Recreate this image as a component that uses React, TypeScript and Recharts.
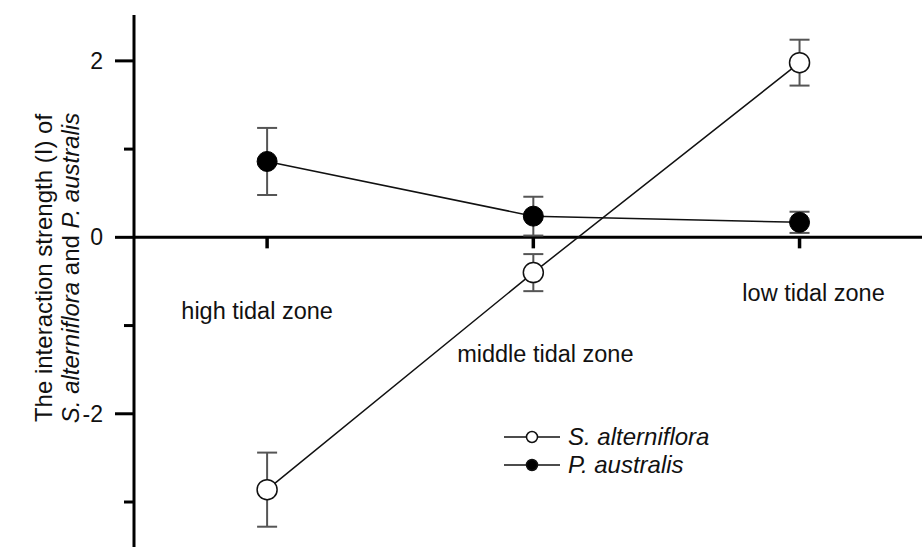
import {
  ComposedChart,
  Line,
  XAxis,
  YAxis,
  ErrorBar,
  ReferenceLine,
  ReferenceDot,
} from 'recharts';

const zones = ['high tidal zone', 'middle tidal zone', 'low tidal zone'];
const alternifloraMean = [-2.86, -0.4, 1.98];
const alternifloraSe = [0.42, 0.21, 0.26];
const australisMean = [0.86, 0.24, 0.17];
const australisSe = [0.38, 0.22, 0.12];
const yTicks = [-3, -2, -1, 0, 1, 2];

const FONT = '"Liberation Sans", Arial, sans-serif';
const AXIS_X = 134;

// one row per zone, x is the zone index
const data = zones.map((zone, i) => ({
  x: i,
  zone,
  sa: alternifloraMean[i],
  saErr: alternifloraSe[i],
  pa: australisMean[i],
  paErr: australisSe[i],
}));

// where each zone name is written (px shift, y in data units)
const zoneLabelPos = [
  { dx: -10, y: -0.84 },
  { dx: 12, y: -1.32 },
  { dx: 14, y: -0.63 },
];

const OpenDot = (p: any) => (
  <circle key={p.index} cx={p.cx} cy={p.cy} r={10} fill="#fff" stroke="#111" strokeWidth={1.5} />
);
const FilledDot = (p: any) => (
  <circle key={p.index} cx={p.cx} cy={p.cy} r={10} fill="#000" stroke="#000" strokeWidth={1} />
);

const YTick = ({ y, payload }: any) => {
  const major = payload.value % 2 === 0;
  return (
    <g>
      <line x1={AXIS_X - (major ? 19 : 10)} x2={AXIS_X} y1={y} y2={y} stroke="#000" strokeWidth={3} />
      {major && (
        <text x={AXIS_X - 31} y={y} dy={8} textAnchor="end" fontSize={23} fill="#111" fontFamily={FONT}>
          {payload.value}
        </text>
      )}
    </g>
  );
};

const YTitle = () => (
  <g fontFamily={FONT} fontSize={24} fill="#111">
    <text transform="translate(52,268) rotate(-90)" textAnchor="middle">
      The interaction strength (I) of
    </text>
    <text transform="translate(79,268) rotate(-90)" textAnchor="middle">
      <tspan fontStyle="italic">S. alterniflora</tspan> and <tspan fontStyle="italic">P. australis</tspan>
    </text>
  </g>
);

const legendItems = [
  { name: 'S. alterniflora', fill: '#fff' },
  { name: 'P. australis', fill: '#000' },
];

export default function App() {
  return (
    <div style={{ position: 'absolute', left: 0, top: 0, width: 922, height: 547, background: '#fff' }}>
      <ComposedChart width={922} height={547} data={data} margin={{ top: 15, right: 0, bottom: 0, left: 0 }}>
        <XAxis type="number" dataKey="x" domain={[-0.5, 2.46]} hide allowDataOverflow />
        <YAxis
          type="number"
          domain={[-3.51, 2.52]}
          ticks={yTicks}
          interval={0}
          width={AXIS_X}
          allowDataOverflow
          tickLine={false}
          axisLine={{ stroke: '#000', strokeWidth: 3 }}
          tick={<YTick />}
          label={{ content: () => <YTitle /> }}
        />
        <ReferenceLine y={0} stroke="#000" strokeWidth={3} />
        {zones.map((z, i) => (
          <ReferenceLine
            key={'t' + z}
            segment={[{ x: i, y: 0 }, { x: i, y: -0.125 }]}
            stroke="#000"
            strokeWidth={3.5}
          />
        ))}
        {zones.map((z, i) => (
          <ReferenceDot
            key={'l' + z}
            x={i}
            y={zoneLabelPos[i].y}
            r={0}
            shape={(p: any) => (
              <text
                x={p.cx + zoneLabelPos[i].dx}
                y={p.cy}
                dy={8}
                textAnchor="middle"
                fontSize={23.5}
                fill="#111"
                fontFamily={FONT}
              >
                {z}
              </text>
            )}
          />
        ))}
        <Line
          type="linear"
          dataKey="sa"
          name="S. alterniflora"
          stroke="#111"
          strokeWidth={1.5}
          dot={<OpenDot />}
          activeDot={false}
          isAnimationActive={false}
        >
          <ErrorBar dataKey="saErr" direction="y" width={10} stroke="#555" strokeWidth={2} />
        </Line>
        <Line
          type="linear"
          dataKey="pa"
          name="P. australis"
          stroke="#111"
          strokeWidth={1.5}
          dot={<FilledDot />}
          activeDot={false}
          isAnimationActive={false}
        >
          <ErrorBar dataKey="paErr" direction="y" width={10} stroke="#555" strokeWidth={2} />
        </Line>
      </ComposedChart>
      <div
        style={{
          position: 'absolute',
          left: 504,
          top: 423,
          fontFamily: FONT,
          fontSize: 24,
          fontStyle: 'italic',
          color: '#111',
        }}
      >
        {legendItems.map((it) => (
          <div key={it.name} style={{ display: 'flex', alignItems: 'center', height: 28 }}>
            <svg width={60} height={20} style={{ marginRight: 4 }}>
              <line x1={0} x2={56} y1={10} y2={10} stroke="#111" strokeWidth={1.5} />
              <circle cx={28} cy={10} r={5.5} fill={it.fill} stroke="#111" strokeWidth={1.5} />
            </svg>
            <span>{it.name}</span>
          </div>
        ))}
      </div>
    </div>
  );
}
